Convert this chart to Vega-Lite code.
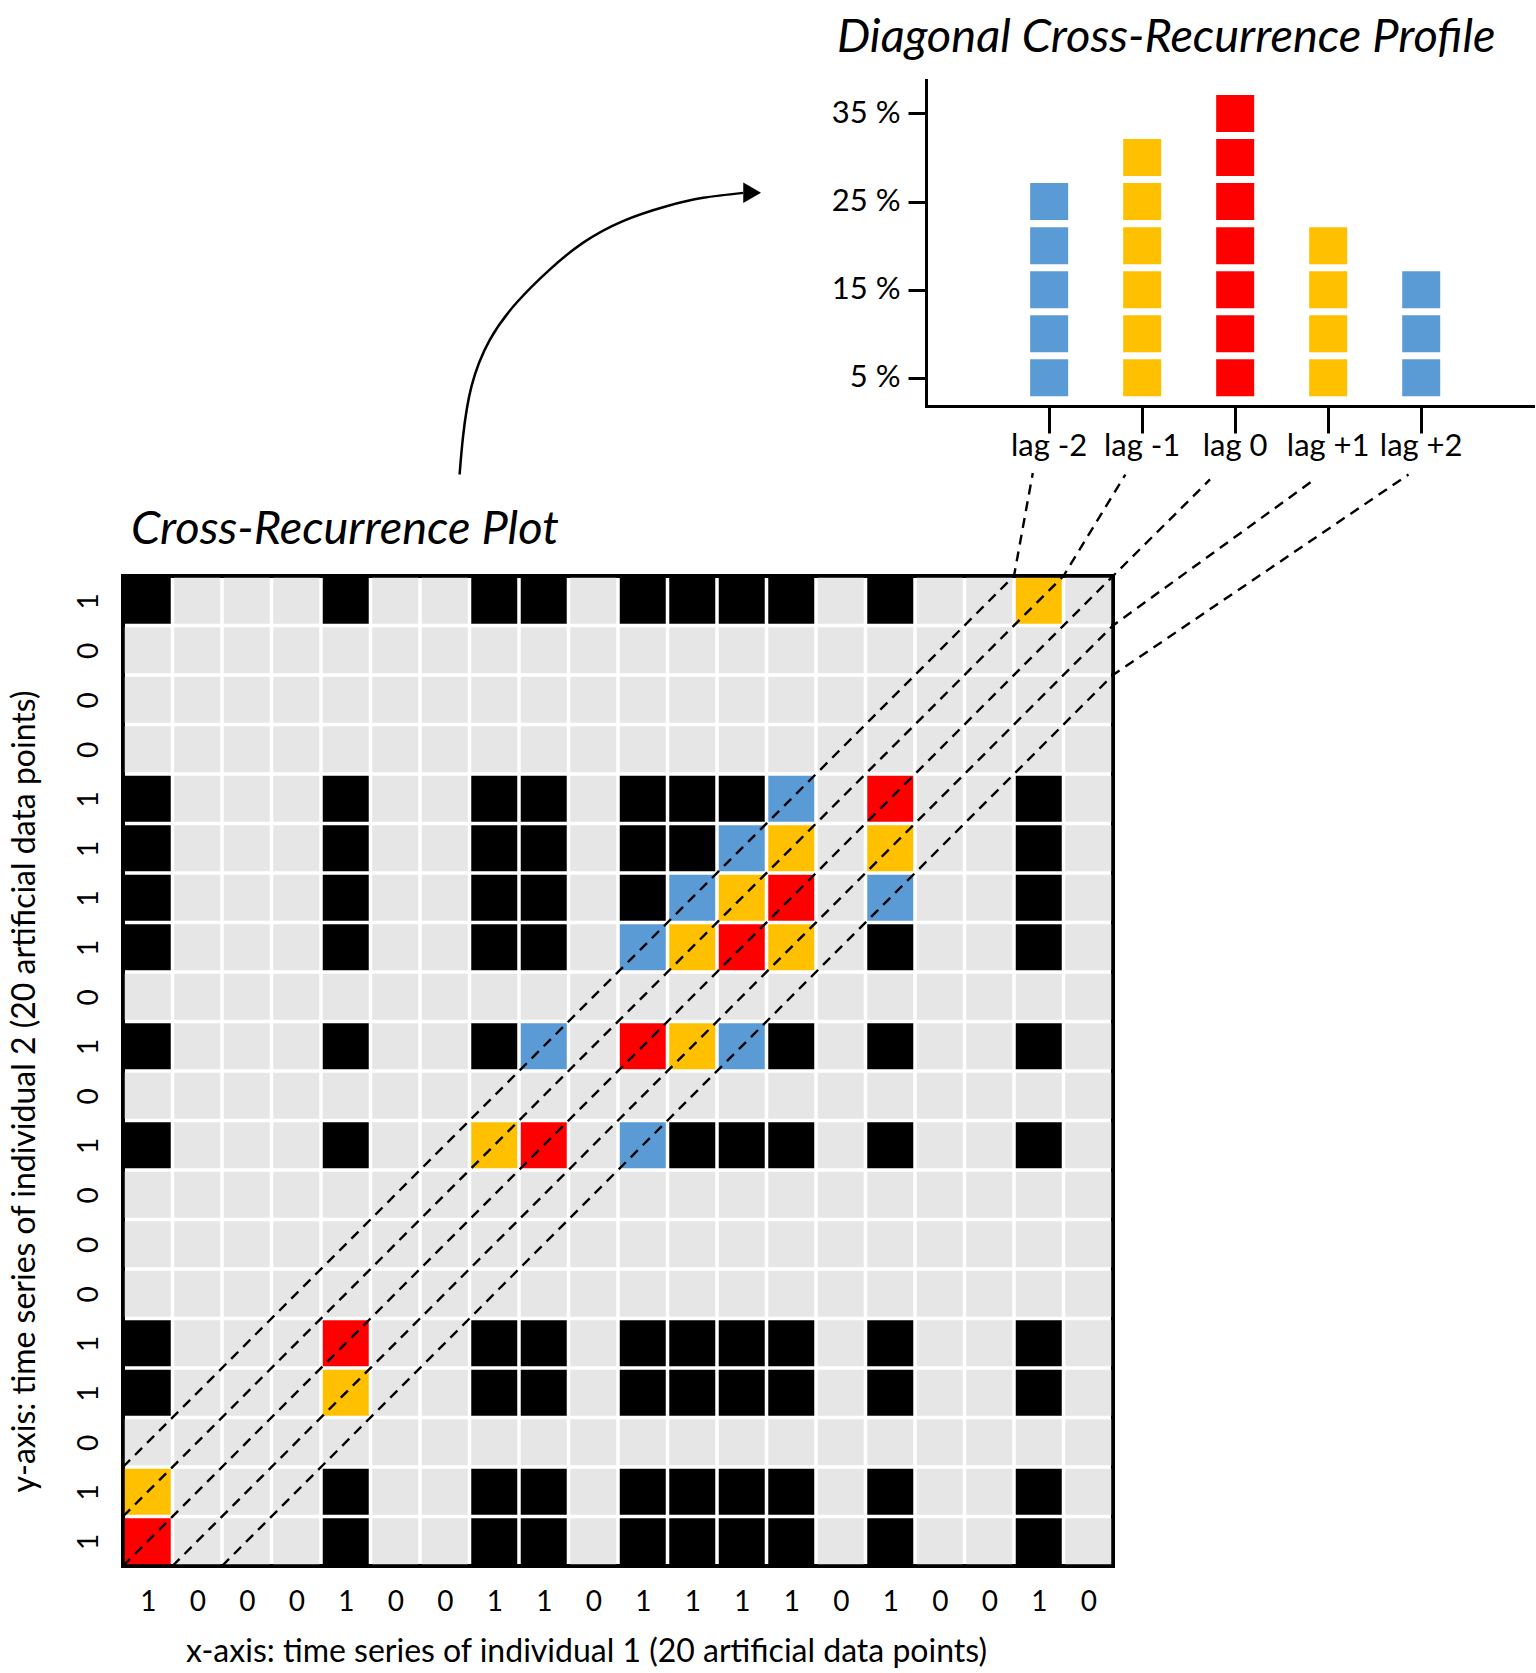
{
  "$schema": "https://vega.github.io/schema/vega-lite/v6.json",
  "padding": {"left": 6, "top": 14, "right": 6, "bottom": 4},
  "background": "white",
  "config": {
    "font": "Lato",
    "view": {"stroke": null},
    "axis": {"labelColor": "black", "titleColor": "black", "domainColor": "black", "tickColor": "black", "labelFont": "Lato", "titleFont": "Lato", "titleFontWeight": "normal", "grid": false}
  },
  "resolve": {"scale": {"color": "independent"}},
  "bounds": "flush",
  "spacing": 170,
  "vconcat": [
    {
      "width": 1410,
      "height": 326,
      "title": {"text": "Diagonal Cross-Recurrence Profile", "anchor": "start", "frame": "group", "dx": 714, "offset": -19, "baseline": "alphabetic", "fontSize": 47, "fontStyle": "italic", "fontWeight": "normal", "font": "Lato", "color": "black"},
      "data": {"values": [
        {"lag": "lag -2", "pct": 5}, {"lag": "lag -2", "pct": 10}, {"lag": "lag -2", "pct": 15}, {"lag": "lag -2", "pct": 20}, {"lag": "lag -2", "pct": 25},
        {"lag": "lag -1", "pct": 5}, {"lag": "lag -1", "pct": 10}, {"lag": "lag -1", "pct": 15}, {"lag": "lag -1", "pct": 20}, {"lag": "lag -1", "pct": 25}, {"lag": "lag -1", "pct": 30},
        {"lag": "lag 0", "pct": 5}, {"lag": "lag 0", "pct": 10}, {"lag": "lag 0", "pct": 15}, {"lag": "lag 0", "pct": 20}, {"lag": "lag 0", "pct": 25}, {"lag": "lag 0", "pct": 30}, {"lag": "lag 0", "pct": 35},
        {"lag": "lag +1", "pct": 5}, {"lag": "lag +1", "pct": 10}, {"lag": "lag +1", "pct": 15}, {"lag": "lag +1", "pct": 20},
        {"lag": "lag +2", "pct": 5}, {"lag": "lag +2", "pct": 10}, {"lag": "lag +2", "pct": 15}
      ]},
      "mark": {"type": "tick", "thickness": 37, "size": 38, "opacity": 1},
      "encoding": {
        "x": {"field": "lag", "type": "ordinal",
              "scale": {"domain": ["lag -2", "lag -1", "lag 0", "lag +1", "lag +2"], "range": [803, 1410], "paddingInner": 0, "paddingOuter": 0.763, "align": 0.54},
              "axis": {"title": null, "labelAngle": 0, "labelFontSize": 31, "labelPadding": -2, "tickSize": 27, "tickWidth": 3, "domainWidth": 3, "domainCap": "square", "labelOverlap": false}},
        "y": {"field": "pct", "type": "quantitative",
              "scale": {"domain": [1.8, 38.8], "nice": false, "zero": false},
              "axis": {"title": null, "offset": -803, "values": [5, 15, 25, 35], "labelExpr": "datum.value + ' %'", "labelFontSize": 31, "labelPadding": 8, "tickSize": 18, "tickWidth": 3, "domainWidth": 3, "domainCap": "square"}},
        "color": {"field": "lag", "type": "nominal",
                  "scale": {"domain": ["lag -2", "lag -1", "lag 0", "lag +1", "lag +2"], "range": ["#5b9bd5", "#ffc000", "#ff0000", "#ffc000", "#5b9bd5"]},
                  "legend": null}
      }
    },
    {
      "width": 990,
      "height": 990,
      "view": {"stroke": "black", "strokeWidth": 4},
      "title": {"text": "Cross-Recurrence Plot", "anchor": "start", "frame": "group", "dx": 8, "offset": -408, "baseline": "alphabetic", "fontSize": 47, "fontStyle": "italic", "fontWeight": "normal", "font": "Lato", "color": "black"},
      "layer": [
        {
          "data": {"values": [
            {"x":1,"y":1,"c":"r"},{"x":2,"y":1,"c":"g"},{"x":3,"y":1,"c":"g"},{"x":4,"y":1,"c":"g"},{"x":5,"y":1,"c":"b"},{"x":6,"y":1,"c":"g"},{"x":7,"y":1,"c":"g"},{"x":8,"y":1,"c":"b"},{"x":9,"y":1,"c":"b"},{"x":10,"y":1,"c":"g"},{"x":11,"y":1,"c":"b"},{"x":12,"y":1,"c":"b"},{"x":13,"y":1,"c":"b"},{"x":14,"y":1,"c":"b"},{"x":15,"y":1,"c":"g"},{"x":16,"y":1,"c":"b"},{"x":17,"y":1,"c":"g"},{"x":18,"y":1,"c":"g"},{"x":19,"y":1,"c":"b"},{"x":20,"y":1,"c":"g"},
            {"x":1,"y":2,"c":"y"},{"x":2,"y":2,"c":"g"},{"x":3,"y":2,"c":"g"},{"x":4,"y":2,"c":"g"},{"x":5,"y":2,"c":"b"},{"x":6,"y":2,"c":"g"},{"x":7,"y":2,"c":"g"},{"x":8,"y":2,"c":"b"},{"x":9,"y":2,"c":"b"},{"x":10,"y":2,"c":"g"},{"x":11,"y":2,"c":"b"},{"x":12,"y":2,"c":"b"},{"x":13,"y":2,"c":"b"},{"x":14,"y":2,"c":"b"},{"x":15,"y":2,"c":"g"},{"x":16,"y":2,"c":"b"},{"x":17,"y":2,"c":"g"},{"x":18,"y":2,"c":"g"},{"x":19,"y":2,"c":"b"},{"x":20,"y":2,"c":"g"},
            {"x":1,"y":3,"c":"g"},{"x":2,"y":3,"c":"g"},{"x":3,"y":3,"c":"g"},{"x":4,"y":3,"c":"g"},{"x":5,"y":3,"c":"g"},{"x":6,"y":3,"c":"g"},{"x":7,"y":3,"c":"g"},{"x":8,"y":3,"c":"g"},{"x":9,"y":3,"c":"g"},{"x":10,"y":3,"c":"g"},{"x":11,"y":3,"c":"g"},{"x":12,"y":3,"c":"g"},{"x":13,"y":3,"c":"g"},{"x":14,"y":3,"c":"g"},{"x":15,"y":3,"c":"g"},{"x":16,"y":3,"c":"g"},{"x":17,"y":3,"c":"g"},{"x":18,"y":3,"c":"g"},{"x":19,"y":3,"c":"g"},{"x":20,"y":3,"c":"g"},
            {"x":1,"y":4,"c":"b"},{"x":2,"y":4,"c":"g"},{"x":3,"y":4,"c":"g"},{"x":4,"y":4,"c":"g"},{"x":5,"y":4,"c":"y"},{"x":6,"y":4,"c":"g"},{"x":7,"y":4,"c":"g"},{"x":8,"y":4,"c":"b"},{"x":9,"y":4,"c":"b"},{"x":10,"y":4,"c":"g"},{"x":11,"y":4,"c":"b"},{"x":12,"y":4,"c":"b"},{"x":13,"y":4,"c":"b"},{"x":14,"y":4,"c":"b"},{"x":15,"y":4,"c":"g"},{"x":16,"y":4,"c":"b"},{"x":17,"y":4,"c":"g"},{"x":18,"y":4,"c":"g"},{"x":19,"y":4,"c":"b"},{"x":20,"y":4,"c":"g"},
            {"x":1,"y":5,"c":"b"},{"x":2,"y":5,"c":"g"},{"x":3,"y":5,"c":"g"},{"x":4,"y":5,"c":"g"},{"x":5,"y":5,"c":"r"},{"x":6,"y":5,"c":"g"},{"x":7,"y":5,"c":"g"},{"x":8,"y":5,"c":"b"},{"x":9,"y":5,"c":"b"},{"x":10,"y":5,"c":"g"},{"x":11,"y":5,"c":"b"},{"x":12,"y":5,"c":"b"},{"x":13,"y":5,"c":"b"},{"x":14,"y":5,"c":"b"},{"x":15,"y":5,"c":"g"},{"x":16,"y":5,"c":"b"},{"x":17,"y":5,"c":"g"},{"x":18,"y":5,"c":"g"},{"x":19,"y":5,"c":"b"},{"x":20,"y":5,"c":"g"},
            {"x":1,"y":6,"c":"g"},{"x":2,"y":6,"c":"g"},{"x":3,"y":6,"c":"g"},{"x":4,"y":6,"c":"g"},{"x":5,"y":6,"c":"g"},{"x":6,"y":6,"c":"g"},{"x":7,"y":6,"c":"g"},{"x":8,"y":6,"c":"g"},{"x":9,"y":6,"c":"g"},{"x":10,"y":6,"c":"g"},{"x":11,"y":6,"c":"g"},{"x":12,"y":6,"c":"g"},{"x":13,"y":6,"c":"g"},{"x":14,"y":6,"c":"g"},{"x":15,"y":6,"c":"g"},{"x":16,"y":6,"c":"g"},{"x":17,"y":6,"c":"g"},{"x":18,"y":6,"c":"g"},{"x":19,"y":6,"c":"g"},{"x":20,"y":6,"c":"g"},
            {"x":1,"y":7,"c":"g"},{"x":2,"y":7,"c":"g"},{"x":3,"y":7,"c":"g"},{"x":4,"y":7,"c":"g"},{"x":5,"y":7,"c":"g"},{"x":6,"y":7,"c":"g"},{"x":7,"y":7,"c":"g"},{"x":8,"y":7,"c":"g"},{"x":9,"y":7,"c":"g"},{"x":10,"y":7,"c":"g"},{"x":11,"y":7,"c":"g"},{"x":12,"y":7,"c":"g"},{"x":13,"y":7,"c":"g"},{"x":14,"y":7,"c":"g"},{"x":15,"y":7,"c":"g"},{"x":16,"y":7,"c":"g"},{"x":17,"y":7,"c":"g"},{"x":18,"y":7,"c":"g"},{"x":19,"y":7,"c":"g"},{"x":20,"y":7,"c":"g"},
            {"x":1,"y":8,"c":"g"},{"x":2,"y":8,"c":"g"},{"x":3,"y":8,"c":"g"},{"x":4,"y":8,"c":"g"},{"x":5,"y":8,"c":"g"},{"x":6,"y":8,"c":"g"},{"x":7,"y":8,"c":"g"},{"x":8,"y":8,"c":"g"},{"x":9,"y":8,"c":"g"},{"x":10,"y":8,"c":"g"},{"x":11,"y":8,"c":"g"},{"x":12,"y":8,"c":"g"},{"x":13,"y":8,"c":"g"},{"x":14,"y":8,"c":"g"},{"x":15,"y":8,"c":"g"},{"x":16,"y":8,"c":"g"},{"x":17,"y":8,"c":"g"},{"x":18,"y":8,"c":"g"},{"x":19,"y":8,"c":"g"},{"x":20,"y":8,"c":"g"},
            {"x":1,"y":9,"c":"b"},{"x":2,"y":9,"c":"g"},{"x":3,"y":9,"c":"g"},{"x":4,"y":9,"c":"g"},{"x":5,"y":9,"c":"b"},{"x":6,"y":9,"c":"g"},{"x":7,"y":9,"c":"g"},{"x":8,"y":9,"c":"y"},{"x":9,"y":9,"c":"r"},{"x":10,"y":9,"c":"g"},{"x":11,"y":9,"c":"u"},{"x":12,"y":9,"c":"b"},{"x":13,"y":9,"c":"b"},{"x":14,"y":9,"c":"b"},{"x":15,"y":9,"c":"g"},{"x":16,"y":9,"c":"b"},{"x":17,"y":9,"c":"g"},{"x":18,"y":9,"c":"g"},{"x":19,"y":9,"c":"b"},{"x":20,"y":9,"c":"g"},
            {"x":1,"y":10,"c":"g"},{"x":2,"y":10,"c":"g"},{"x":3,"y":10,"c":"g"},{"x":4,"y":10,"c":"g"},{"x":5,"y":10,"c":"g"},{"x":6,"y":10,"c":"g"},{"x":7,"y":10,"c":"g"},{"x":8,"y":10,"c":"g"},{"x":9,"y":10,"c":"g"},{"x":10,"y":10,"c":"g"},{"x":11,"y":10,"c":"g"},{"x":12,"y":10,"c":"g"},{"x":13,"y":10,"c":"g"},{"x":14,"y":10,"c":"g"},{"x":15,"y":10,"c":"g"},{"x":16,"y":10,"c":"g"},{"x":17,"y":10,"c":"g"},{"x":18,"y":10,"c":"g"},{"x":19,"y":10,"c":"g"},{"x":20,"y":10,"c":"g"},
            {"x":1,"y":11,"c":"b"},{"x":2,"y":11,"c":"g"},{"x":3,"y":11,"c":"g"},{"x":4,"y":11,"c":"g"},{"x":5,"y":11,"c":"b"},{"x":6,"y":11,"c":"g"},{"x":7,"y":11,"c":"g"},{"x":8,"y":11,"c":"b"},{"x":9,"y":11,"c":"u"},{"x":10,"y":11,"c":"g"},{"x":11,"y":11,"c":"r"},{"x":12,"y":11,"c":"y"},{"x":13,"y":11,"c":"u"},{"x":14,"y":11,"c":"b"},{"x":15,"y":11,"c":"g"},{"x":16,"y":11,"c":"b"},{"x":17,"y":11,"c":"g"},{"x":18,"y":11,"c":"g"},{"x":19,"y":11,"c":"b"},{"x":20,"y":11,"c":"g"},
            {"x":1,"y":12,"c":"g"},{"x":2,"y":12,"c":"g"},{"x":3,"y":12,"c":"g"},{"x":4,"y":12,"c":"g"},{"x":5,"y":12,"c":"g"},{"x":6,"y":12,"c":"g"},{"x":7,"y":12,"c":"g"},{"x":8,"y":12,"c":"g"},{"x":9,"y":12,"c":"g"},{"x":10,"y":12,"c":"g"},{"x":11,"y":12,"c":"g"},{"x":12,"y":12,"c":"g"},{"x":13,"y":12,"c":"g"},{"x":14,"y":12,"c":"g"},{"x":15,"y":12,"c":"g"},{"x":16,"y":12,"c":"g"},{"x":17,"y":12,"c":"g"},{"x":18,"y":12,"c":"g"},{"x":19,"y":12,"c":"g"},{"x":20,"y":12,"c":"g"},
            {"x":1,"y":13,"c":"b"},{"x":2,"y":13,"c":"g"},{"x":3,"y":13,"c":"g"},{"x":4,"y":13,"c":"g"},{"x":5,"y":13,"c":"b"},{"x":6,"y":13,"c":"g"},{"x":7,"y":13,"c":"g"},{"x":8,"y":13,"c":"b"},{"x":9,"y":13,"c":"b"},{"x":10,"y":13,"c":"g"},{"x":11,"y":13,"c":"u"},{"x":12,"y":13,"c":"y"},{"x":13,"y":13,"c":"r"},{"x":14,"y":13,"c":"y"},{"x":15,"y":13,"c":"g"},{"x":16,"y":13,"c":"b"},{"x":17,"y":13,"c":"g"},{"x":18,"y":13,"c":"g"},{"x":19,"y":13,"c":"b"},{"x":20,"y":13,"c":"g"},
            {"x":1,"y":14,"c":"b"},{"x":2,"y":14,"c":"g"},{"x":3,"y":14,"c":"g"},{"x":4,"y":14,"c":"g"},{"x":5,"y":14,"c":"b"},{"x":6,"y":14,"c":"g"},{"x":7,"y":14,"c":"g"},{"x":8,"y":14,"c":"b"},{"x":9,"y":14,"c":"b"},{"x":10,"y":14,"c":"g"},{"x":11,"y":14,"c":"b"},{"x":12,"y":14,"c":"u"},{"x":13,"y":14,"c":"y"},{"x":14,"y":14,"c":"r"},{"x":15,"y":14,"c":"g"},{"x":16,"y":14,"c":"u"},{"x":17,"y":14,"c":"g"},{"x":18,"y":14,"c":"g"},{"x":19,"y":14,"c":"b"},{"x":20,"y":14,"c":"g"},
            {"x":1,"y":15,"c":"b"},{"x":2,"y":15,"c":"g"},{"x":3,"y":15,"c":"g"},{"x":4,"y":15,"c":"g"},{"x":5,"y":15,"c":"b"},{"x":6,"y":15,"c":"g"},{"x":7,"y":15,"c":"g"},{"x":8,"y":15,"c":"b"},{"x":9,"y":15,"c":"b"},{"x":10,"y":15,"c":"g"},{"x":11,"y":15,"c":"b"},{"x":12,"y":15,"c":"b"},{"x":13,"y":15,"c":"u"},{"x":14,"y":15,"c":"y"},{"x":15,"y":15,"c":"g"},{"x":16,"y":15,"c":"y"},{"x":17,"y":15,"c":"g"},{"x":18,"y":15,"c":"g"},{"x":19,"y":15,"c":"b"},{"x":20,"y":15,"c":"g"},
            {"x":1,"y":16,"c":"b"},{"x":2,"y":16,"c":"g"},{"x":3,"y":16,"c":"g"},{"x":4,"y":16,"c":"g"},{"x":5,"y":16,"c":"b"},{"x":6,"y":16,"c":"g"},{"x":7,"y":16,"c":"g"},{"x":8,"y":16,"c":"b"},{"x":9,"y":16,"c":"b"},{"x":10,"y":16,"c":"g"},{"x":11,"y":16,"c":"b"},{"x":12,"y":16,"c":"b"},{"x":13,"y":16,"c":"b"},{"x":14,"y":16,"c":"u"},{"x":15,"y":16,"c":"g"},{"x":16,"y":16,"c":"r"},{"x":17,"y":16,"c":"g"},{"x":18,"y":16,"c":"g"},{"x":19,"y":16,"c":"b"},{"x":20,"y":16,"c":"g"},
            {"x":1,"y":17,"c":"g"},{"x":2,"y":17,"c":"g"},{"x":3,"y":17,"c":"g"},{"x":4,"y":17,"c":"g"},{"x":5,"y":17,"c":"g"},{"x":6,"y":17,"c":"g"},{"x":7,"y":17,"c":"g"},{"x":8,"y":17,"c":"g"},{"x":9,"y":17,"c":"g"},{"x":10,"y":17,"c":"g"},{"x":11,"y":17,"c":"g"},{"x":12,"y":17,"c":"g"},{"x":13,"y":17,"c":"g"},{"x":14,"y":17,"c":"g"},{"x":15,"y":17,"c":"g"},{"x":16,"y":17,"c":"g"},{"x":17,"y":17,"c":"g"},{"x":18,"y":17,"c":"g"},{"x":19,"y":17,"c":"g"},{"x":20,"y":17,"c":"g"},
            {"x":1,"y":18,"c":"g"},{"x":2,"y":18,"c":"g"},{"x":3,"y":18,"c":"g"},{"x":4,"y":18,"c":"g"},{"x":5,"y":18,"c":"g"},{"x":6,"y":18,"c":"g"},{"x":7,"y":18,"c":"g"},{"x":8,"y":18,"c":"g"},{"x":9,"y":18,"c":"g"},{"x":10,"y":18,"c":"g"},{"x":11,"y":18,"c":"g"},{"x":12,"y":18,"c":"g"},{"x":13,"y":18,"c":"g"},{"x":14,"y":18,"c":"g"},{"x":15,"y":18,"c":"g"},{"x":16,"y":18,"c":"g"},{"x":17,"y":18,"c":"g"},{"x":18,"y":18,"c":"g"},{"x":19,"y":18,"c":"g"},{"x":20,"y":18,"c":"g"},
            {"x":1,"y":19,"c":"g"},{"x":2,"y":19,"c":"g"},{"x":3,"y":19,"c":"g"},{"x":4,"y":19,"c":"g"},{"x":5,"y":19,"c":"g"},{"x":6,"y":19,"c":"g"},{"x":7,"y":19,"c":"g"},{"x":8,"y":19,"c":"g"},{"x":9,"y":19,"c":"g"},{"x":10,"y":19,"c":"g"},{"x":11,"y":19,"c":"g"},{"x":12,"y":19,"c":"g"},{"x":13,"y":19,"c":"g"},{"x":14,"y":19,"c":"g"},{"x":15,"y":19,"c":"g"},{"x":16,"y":19,"c":"g"},{"x":17,"y":19,"c":"g"},{"x":18,"y":19,"c":"g"},{"x":19,"y":19,"c":"g"},{"x":20,"y":19,"c":"g"},
            {"x":1,"y":20,"c":"b"},{"x":2,"y":20,"c":"g"},{"x":3,"y":20,"c":"g"},{"x":4,"y":20,"c":"g"},{"x":5,"y":20,"c":"b"},{"x":6,"y":20,"c":"g"},{"x":7,"y":20,"c":"g"},{"x":8,"y":20,"c":"b"},{"x":9,"y":20,"c":"b"},{"x":10,"y":20,"c":"g"},{"x":11,"y":20,"c":"b"},{"x":12,"y":20,"c":"b"},{"x":13,"y":20,"c":"b"},{"x":14,"y":20,"c":"b"},{"x":15,"y":20,"c":"g"},{"x":16,"y":20,"c":"b"},{"x":17,"y":20,"c":"g"},{"x":18,"y":20,"c":"g"},{"x":19,"y":20,"c":"y"},{"x":20,"y":20,"c":"g"}
          ]},
          "mark": {"type": "square", "size": 2116, "opacity": 1, "filled": true, "strokeWidth": 0},
          "encoding": {
            "x": {"field": "x", "type": "quantitative",
                  "scale": {"domain": [0.5, 20.5], "nice": false, "zero": false},
                  "axis": {"values": [1,2,3,4,5,6,7,8,9,10,11,12,13,14,15,16,17,18,19,20],
                           "labelExpr": "['1','0','0','0','1','0','0','1','1','0','1','1','1','1','0','1','0','0','1','0'][datum.value - 1]",
                           "ticks": false, "tickSize": 0, "domain": false, "labelFontSize": 28, "labelPadding": 22, "labelOverlap": false,
                           "title": "x-axis: time series of individual 1 (20 artificial data points)", "titleFontSize": 32, "titlePadding": 20, "titleX": 463}},
            "y": {"field": "y", "type": "quantitative",
                  "scale": {"domain": [0.5, 20.5], "nice": false, "zero": false},
                  "axis": {"values": [1,2,3,4,5,6,7,8,9,10,11,12,13,14,15,16,17,18,19,20],
                           "labelExpr": "['1','1','0','1','1','0','0','0','1','0','1','0','1','1','1','1','0','0','0','1'][datum.value - 1]",
                           "ticks": false, "tickSize": 0, "domain": false, "labelFontSize": 28, "labelAngle": -90, "labelAlign": "center", "labelBaseline": "bottom", "labelPadding": 20, "labelOverlap": false,
                           "title": "y-axis: time series of individual 2 (20 artificial data points)", "titleFontSize": 32, "titlePadding": 34, "titleY": 515}},
            "color": {"field": "c", "type": "nominal",
                      "scale": {"domain": ["g", "b", "r", "y", "u"], "range": ["#e7e6e6", "#000000", "#ff0000", "#ffc000", "#5b9bd5"]},
                      "legend": null}
          }
        },
        {
          "data": {"values": [
            {"lag": "lag -2", "o": 1, "x": 0.5, "y": 2.5}, {"lag": "lag -2", "o": 2, "x": 18.5, "y": 20.5}, {"lag": "lag -2", "o": 3, "x": 18.88, "y": 22.58},
            {"lag": "lag -1", "o": 1, "x": 0.5, "y": 1.5}, {"lag": "lag -1", "o": 2, "x": 19.5, "y": 20.5}, {"lag": "lag -1", "o": 3, "x": 20.75, "y": 22.55},
            {"lag": "lag 0", "o": 1, "x": 0.5, "y": 0.5}, {"lag": "lag 0", "o": 2, "x": 20.5, "y": 20.5}, {"lag": "lag 0", "o": 3, "x": 22.46, "y": 22.45},
            {"lag": "lag +1", "o": 1, "x": 1.5, "y": 0.5}, {"lag": "lag +1", "o": 2, "x": 20.5, "y": 19.5}, {"lag": "lag +1", "o": 3, "x": 24.57, "y": 22.45},
            {"lag": "lag +2", "o": 1, "x": 2.5, "y": 0.5}, {"lag": "lag +2", "o": 2, "x": 20.5, "y": 18.5}, {"lag": "lag +2", "o": 3, "x": 26.47, "y": 22.55}
          ]},
          "mark": {"type": "line", "color": "black", "strokeWidth": 2.4, "strokeDash": [10, 7]},
          "encoding": {
            "x": {"field": "x", "type": "quantitative", "scale": {"domain": [0.5, 20.5], "nice": false, "zero": false}},
            "y": {"field": "y", "type": "quantitative", "scale": {"domain": [0.5, 20.5], "nice": false, "zero": false}},
            "detail": {"field": "lag", "type": "nominal"},
            "order": {"field": "o", "type": "quantitative"}
          }
        },
        {
          "data": {"values": [
            {"o": 1, "x": 7.30, "y": 22.55}, {"o": 2, "x": 7.37, "y": 23.32}, {"o": 3, "x": 7.54, "y": 24.33}, {"o": 4, "x": 7.91, "y": 25.27},
            {"o": 5, "x": 8.45, "y": 26.02}, {"o": 6, "x": 9.12, "y": 26.69}, {"o": 7, "x": 9.79, "y": 27.23}, {"o": 8, "x": 10.60, "y": 27.67},
            {"o": 9, "x": 11.48, "y": 27.97}, {"o": 10, "x": 12.22, "y": 28.14}, {"o": 11, "x": 13.03, "y": 28.24}
          ]},
          "mark": {"type": "line", "color": "black", "strokeWidth": 2.5, "interpolate": "natural"},
          "encoding": {
            "x": {"field": "x", "type": "quantitative", "scale": {"domain": [0.5, 20.5], "nice": false, "zero": false}},
            "y": {"field": "y", "type": "quantitative", "scale": {"domain": [0.5, 20.5], "nice": false, "zero": false}},
            "order": {"field": "o", "type": "quantitative"}
          }
        },
        {
          "data": {"values": [{"x": 13.21, "y": 28.24}]},
          "mark": {"type": "point", "shape": "triangle-right", "size": 420, "filled": true, "color": "black", "opacity": 1},
          "encoding": {
            "x": {"field": "x", "type": "quantitative", "scale": {"domain": [0.5, 20.5], "nice": false, "zero": false}},
            "y": {"field": "y", "type": "quantitative", "scale": {"domain": [0.5, 20.5], "nice": false, "zero": false}}
          }
        }
      ]
    }
  ]
}
